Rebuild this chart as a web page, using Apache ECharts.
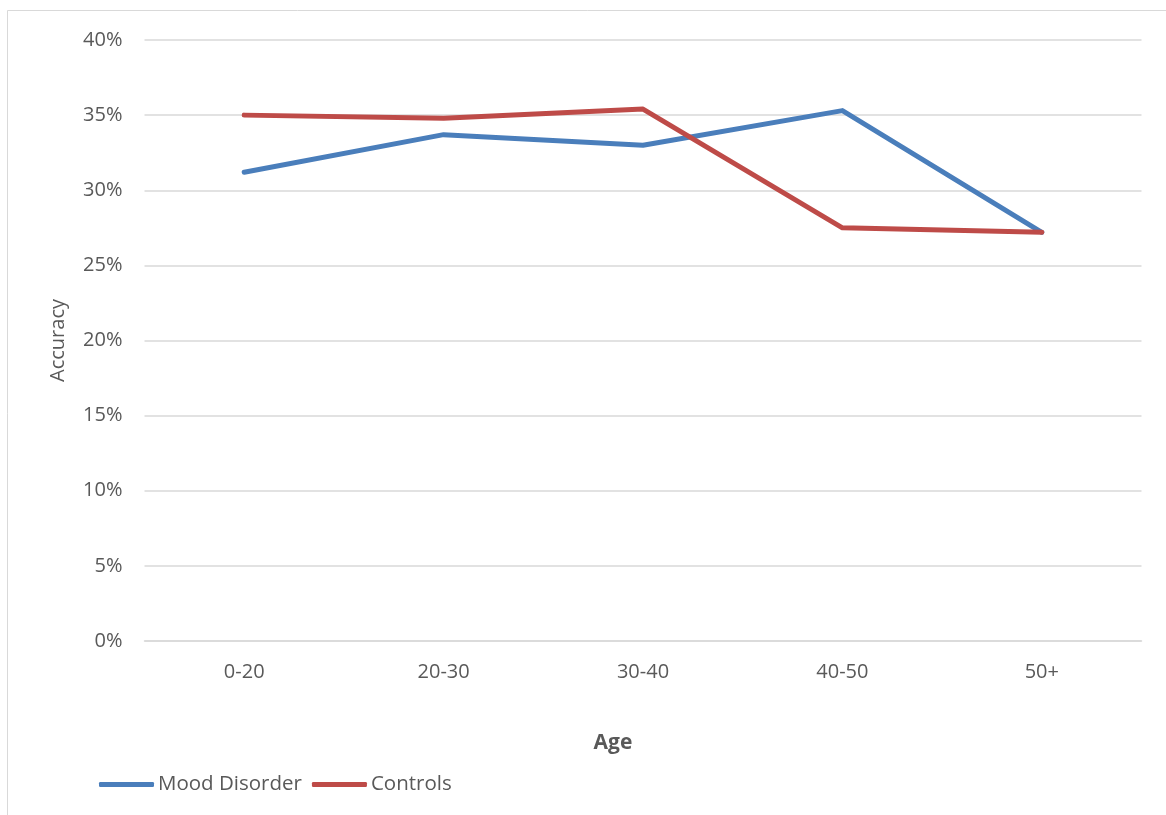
<!DOCTYPE html>
<html>
<head>
<meta charset="utf-8">
<script src="https://cdn.jsdelivr.net/npm/echarts@6/dist/echarts.min.js"></script>
<style>
  html, body { margin: 0; padding: 0; background: #fff; }
  #chart { width: 1166px; height: 815px; }
</style>
</head>
<body>
<div id="chart"></div>
<script>
// Age groups along the x axis
const ageGroups = ['0-20', '20-30', '30-40', '40-50', '50+'];
// Accuracy (%) by age group
const moodDisorder = [31.2, 33.7, 33.0, 35.3, 27.2];
const controls = [35.0, 34.8, 35.4, 27.5, 27.2];
// Y axis ticks
const yMin = 0, yMax = 40, yStep = 5;

const textColor = '#595959';
const fontFamily = '"Open Sans", "Noto Sans", sans-serif';

const chart = echarts.init(document.getElementById('chart'));
chart.setOption({
  backgroundColor: '#fff',
  animation: false,
  textStyle: { fontFamily: fontFamily },
  graphic: [{
    type: 'rect',
    shape: { x: 7.5, y: 10.5, width: 1170, height: 820 },
    style: { fill: 'none', stroke: '#d9d9d9', lineWidth: 1 },
    silent: true
  }],
  grid: { left: 144.5, right: 24.5, top: 40, bottom: 174, containLabel: false },
  legend: {
    left: 99,
    top: 774,
    padding: 0,
    itemWidth: 55,
    itemHeight: 5,
    itemGap: 10,
    icon: 'roundRect',
    textStyle: { color: textColor, fontSize: 20.5, fontFamily: fontFamily, padding: [0, 0, 0, -1] },
    data: ['Mood Disorder', 'Controls']
  },
  xAxis: {
    type: 'category',
    data: ageGroups,
    boundaryGap: true,
    name: 'Age',
    nameLocation: 'middle',
    nameGap: 92,
    nameTextStyle: { color: textColor, fontSize: 21, fontWeight: 'bold', fontFamily: fontFamily, padding: [0, 60, 0, 0] },
    axisLine: { show: true, lineStyle: { color: '#d9d9d9', width: 1.5 } },
    axisTick: { show: false },
    axisLabel: { color: textColor, fontSize: 20, margin: 21, fontFamily: fontFamily }
  },
  yAxis: {
    type: 'value',
    min: yMin,
    max: yMax,
    interval: yStep,
    name: 'Accuracy',
    nameLocation: 'middle',
    nameGap: 76,
    nameTextStyle: { color: textColor, fontSize: 20, fontFamily: fontFamily },
    axisLine: { show: false },
    axisTick: { show: false },
    axisLabel: { color: textColor, fontSize: 20, margin: 22, formatter: v => v + '%', fontFamily: fontFamily },
    splitLine: { lineStyle: { color: '#d9d9d9', width: 1.5 } }
  },
  series: [
    {
      name: 'Mood Disorder',
      type: 'line',
      data: moodDisorder,
      symbol: 'none',
      color: '#4a7ebb',
      lineStyle: { width: 5, color: '#4a7ebb', cap: 'round', join: 'round' }
    },
    {
      name: 'Controls',
      type: 'line',
      data: controls,
      symbol: 'none',
      color: '#be4b48',
      lineStyle: { width: 5, color: '#be4b48', cap: 'round', join: 'round' }
    }
  ]
});
</script>
</body>
</html>
